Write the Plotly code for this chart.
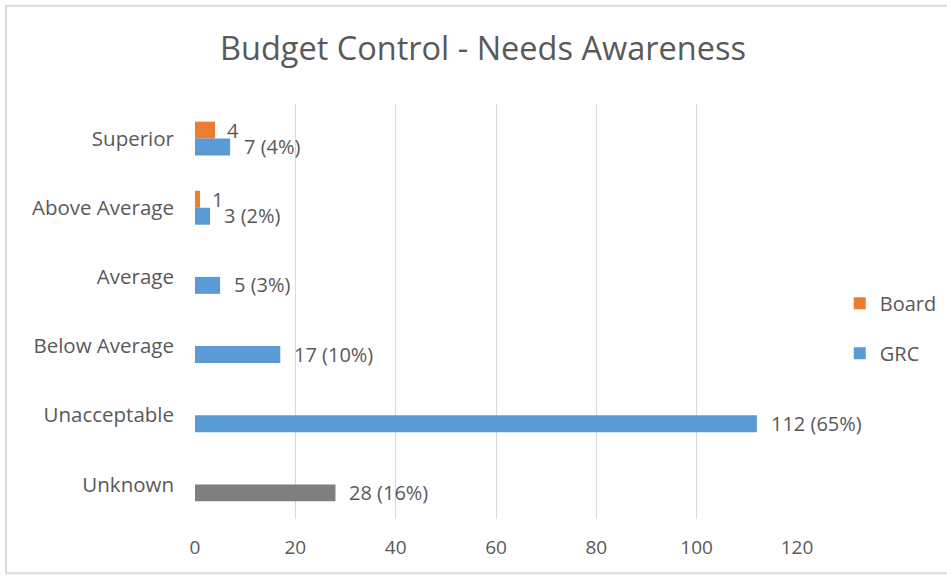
import plotly.graph_objects as go

# Survey responses per rating
categories = ["Superior", "Above Average", "Average", "Below Average", "Unacceptable", "Unknown"]
board_values = [4, 1, None, None, None, None]
grc_values = [7, 3, 5, 17, 112, 28]
x_ticks = [0, 20, 40, 60, 80, 100, 120]

BLUE = "#5B9BD5"
ORANGE = "#ED7D31"
GREY = "#7F7F7F"
TEXT = "#595959"
FONT = "Open Sans"

grc_total = sum(grc_values)
# the "Unknown" bar is shown in grey
grc_colors = [GREY if c == "Unknown" else BLUE for c in categories]

fig = go.Figure()
fig.add_trace(go.Bar(
    name="Board", y=categories, x=board_values, orientation="h",
    marker=dict(color=ORANGE, line=dict(width=0)),
    legendgroup="board",
))
fig.add_trace(go.Bar(
    name="GRC", y=categories, x=grc_values, orientation="h",
    marker=dict(color=grc_colors, line=dict(width=0)),
    legendgroup="grc",
))

# value labels at the end of each bar (Board bars sit above the GRC bars)
label_font = dict(family=FONT, size=20, color=TEXT)
for cat, v in zip(categories, board_values):
    if v is not None:
        fig.add_annotation(x=v, y=cat, text=str(v), showarrow=False,
                           xanchor="left", yanchor="middle", xshift=10, yshift=8,
                           font=label_font)
for cat, v in zip(categories, grc_values):
    fig.add_annotation(x=v, y=cat, text=f"{v} ({round(100 * v / grc_total)}%)",
                       showarrow=False, xanchor="left", yanchor="middle",
                       xshift=12, yshift=-8, font=label_font)

# thin frame around the chart area
fig.add_shape(type="rect", xref="paper", yref="paper",
              x0=-0.314, x1=1.35, y0=-0.131, y1=1.237,
              line=dict(color="#D9D9D9", width=2), fillcolor="rgba(0,0,0,0)", layer="below")

fig.update_layout(
    width=947, height=576,
    margin=dict(l=195, r=150, t=104, b=57, autoexpand=False),
    paper_bgcolor="white", plot_bgcolor="white",
    barmode="group", bargap=0.51, bargroupgap=0,
    title=dict(text="Budget Control - Needs Awareness", x=0.51, xref="container",
               xanchor="center", y=0.915, yanchor="middle",
               font=dict(family=FONT, size=32.5, color=TEXT)),
    font=dict(family=FONT, color=TEXT),
    legend=dict(x=1.071, xanchor="left", y=0.567, yanchor="top",
                font=dict(family=FONT, size=20, color=TEXT),
                traceorder="grouped", tracegroupgap=21,
                bgcolor="rgba(0,0,0,0)"),
    xaxis=dict(range=[0, 120], tickvals=x_ticks, showgrid=True, gridcolor="#D9D9D9",
               gridwidth=1, zeroline=False, showline=False, ticks="",
               tickfont=dict(family=FONT, size=19, color=TEXT), ticklabelstandoff=15),
    yaxis=dict(autorange="reversed", showgrid=False, zeroline=False, showline=False,
               ticks="", tickfont=dict(family=FONT, size=20.5, color=TEXT),
               ticklabelstandoff=20),
)

fig.write_html("out.html")
